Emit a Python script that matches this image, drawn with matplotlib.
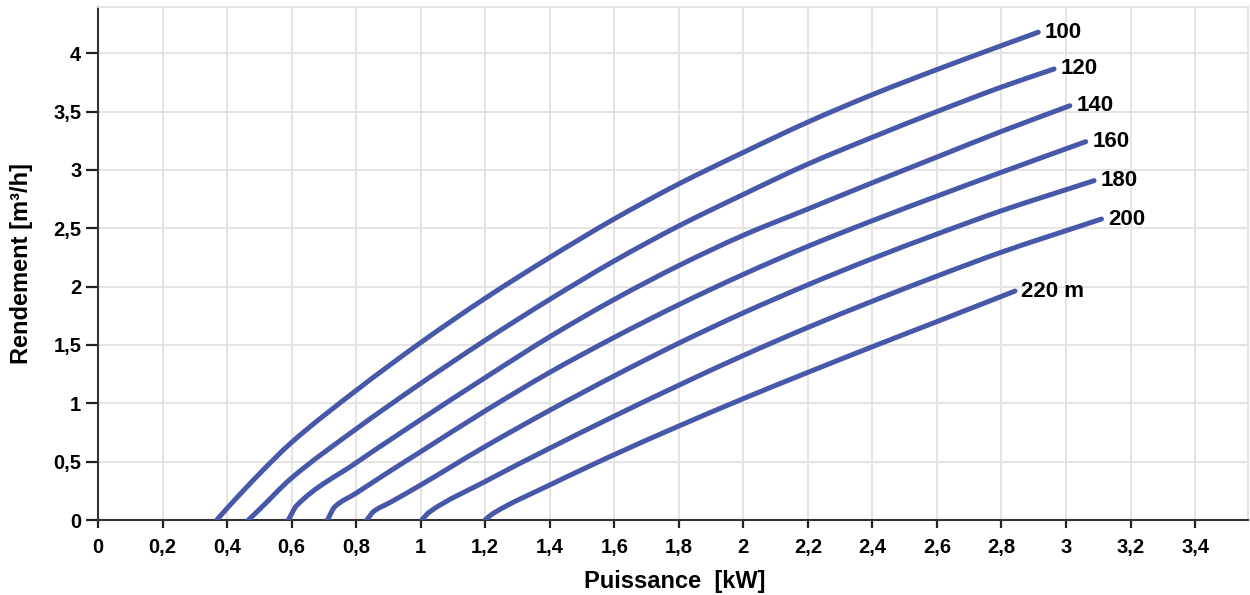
import matplotlib.pyplot as plt
from matplotlib.path import Path
from matplotlib.patches import PathPatch

plt.rcParams['font.family'] = ['Liberation Sans', 'DejaVu Sans']
plt.rcParams['font.weight'] = 'bold'

# head curves (x = Puissance kW, y = Rendement m3/h)
x_100 = [0.368, 0.4, 0.5, 0.6, 0.8, 1.0, 1.2, 1.4, 1.6, 1.8, 2.0, 2.2, 2.4, 2.6, 2.8, 2.914]
y_100 = [0.0, 0.10, 0.395, 0.665, 1.11, 1.52, 1.90, 2.25, 2.58, 2.88, 3.15, 3.41, 3.645, 3.86, 4.065, 4.18]

x_120 = [0.466, 0.5, 0.6, 0.8, 1.0, 1.2, 1.4, 1.6, 1.8, 2.0, 2.2, 2.4, 2.6, 2.8, 2.963]
y_120 = [0.0, 0.09, 0.36, 0.78, 1.17, 1.54, 1.89, 2.22, 2.52, 2.79, 3.05, 3.28, 3.50, 3.71, 3.865]

x_140 = [0.590, 0.616, 0.8, 1.0, 1.2, 1.4, 1.6, 1.8, 2.0, 2.2, 2.4, 2.6, 2.8, 3.012]
y_140 = [0.0, 0.125, 0.49, 0.86, 1.22, 1.57, 1.89, 2.18, 2.44, 2.665, 2.89, 3.11, 3.33, 3.55]

x_160 = [0.711, 0.734, 0.8, 0.9, 1.0, 1.2, 1.4, 1.6, 1.8, 2.0, 2.2, 2.4, 2.6, 2.8, 3.061]
y_160 = [0.0, 0.114, 0.23, 0.41, 0.585, 0.935, 1.265, 1.565, 1.845, 2.105, 2.345, 2.565, 2.775, 2.98, 3.242]

x_180 = [0.833, 0.855, 0.905, 1.0, 1.2, 1.4, 1.6, 1.8, 2.0, 2.2, 2.4, 2.6, 2.8, 3.087]
y_180 = [0.0, 0.075, 0.15, 0.30, 0.63, 0.94, 1.235, 1.515, 1.775, 2.015, 2.24, 2.45, 2.65, 2.908]

x_200 = [1.003, 1.028, 1.2, 1.4, 1.6, 1.8, 2.0, 2.2, 2.4, 2.6, 2.8, 3.110]
y_200 = [0.0, 0.07, 0.33, 0.615, 0.89, 1.155, 1.41, 1.65, 1.875, 2.09, 2.295, 2.579]

x_220 = [1.199, 1.225, 1.4, 1.6, 1.8, 2.0, 2.2, 2.4, 2.6, 2.842]
y_220 = [0.0, 0.057, 0.30, 0.56, 0.805, 1.04, 1.265, 1.485, 1.70, 1.962]

curves = [(x_100, y_100, '100'), (x_120, y_120, '120'), (x_140, y_140, '140'),
          (x_160, y_160, '160'), (x_180, y_180, '180'), (x_200, y_200, '200'),
          (x_220, y_220, '220 m')]

x_ticks = [0, 0.2, 0.4, 0.6, 0.8, 1, 1.2, 1.4, 1.6, 1.8, 2, 2.2, 2.4, 2.6, 2.8, 3, 3.2, 3.4]
y_ticks = [0, 0.5, 1, 1.5, 2, 2.5, 3, 3.5, 4]

line_col = '#4858A8'
grid_col = '#e2e2e2'


def smooth_path(xs, ys):
    # smooth line through the read points: bezier segments, pchip-like tangents
    n = len(xs)
    d = [(ys[i + 1] - ys[i]) / (xs[i + 1] - xs[i]) for i in range(n - 1)]
    m = [d[0]]
    for i in range(1, n - 1):
        if d[i - 1] * d[i] > 0:
            m.append(2.0 / (1.0 / d[i - 1] + 1.0 / d[i]))
        else:
            m.append(0.0)
    m.append(d[-1])
    verts = [(xs[0], ys[0])]
    codes = [Path.MOVETO]
    for i in range(n - 1):
        h = (xs[i + 1] - xs[i]) / 3.0
        verts += [(xs[i] + h, ys[i] + m[i] * h),
                  (xs[i + 1] - h, ys[i + 1] - m[i + 1] * h),
                  (xs[i + 1], ys[i + 1])]
        codes += [Path.CURVE4, Path.CURVE4, Path.CURVE4]
    return Path(verts, codes)


fig = plt.figure(figsize=(12.5, 5.95), dpi=100)
ax = fig.add_axes([98/1250, 75/595, 1150/1250, 513/595])

for xs, ys, lab in curves:
    ax.add_patch(PathPatch(smooth_path(xs, ys), facecolor='none', edgecolor=line_col,
                           lw=3.6, capstyle='round', joinstyle='round', zorder=3))
    ax.text(xs[-1] + 0.02, ys[-1], lab, fontsize=16, fontweight='bold',
            va='center', ha='left', zorder=4)

ax.set_xlim(0, 3.564)
ax.set_ylim(0, 4.396)


def comma(v):
    s = ('%g' % v)
    return s.replace('.', ',')


ax.set_xticks(x_ticks)
ax.set_xticklabels([comma(v) for v in x_ticks])
ax.set_yticks(y_ticks)
ax.set_yticklabels([comma(v) for v in y_ticks])
ax.tick_params(axis='x', length=6, width=1.6, pad=7, labelsize=14.5, color='#222222')
ax.tick_params(axis='y', length=9, width=1.6, pad=3, labelsize=14.5, color='#222222')

ax.grid(True, color=grid_col, lw=1.3, zorder=0)
ax.set_axisbelow(True)

for side in ['top', 'right']:
    ax.spines[side].set_color(grid_col)
    ax.spines[side].set_linewidth(1.3)
for side in ['left', 'bottom']:
    ax.spines[side].set_color('#333333')
    ax.spines[side].set_linewidth(1.5)

fig.text(675/1250, 7/595, 'Puissance  [kW]', fontsize=17, fontweight='bold',
         ha='center', va='baseline')
fig.text(22/1250, (595 - 263)/595, 'Rendement [m³/h]', fontsize=17, fontweight='bold',
         ha='center', va='center', rotation=90)

plt.savefig('out.png', dpi=100)
